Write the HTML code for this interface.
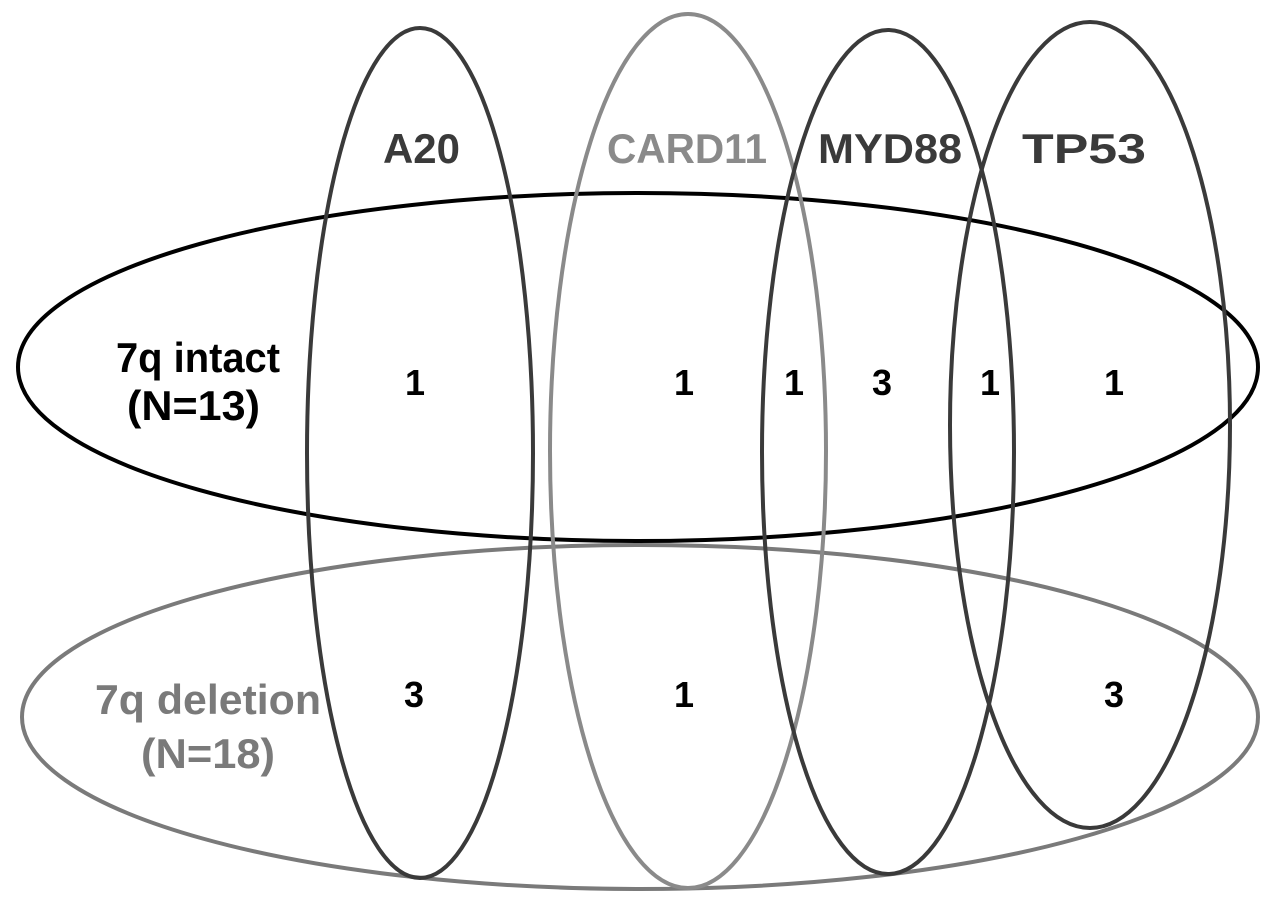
<!DOCTYPE html>
<html><head><meta charset="utf-8"><style>html,body{margin:0;padding:0;background:#fff}svg{display:block}</style></head>
<body>
<svg width="1280" height="911" viewBox="0 0 1280 911" xmlns="http://www.w3.org/2000/svg" font-family="Liberation Sans, sans-serif" font-weight="bold">
<rect width="1280" height="911" fill="#fff"/>
<g fill="none" stroke-width="4">
<ellipse cx="638" cy="367" rx="620" ry="174" stroke="#000"/>
<ellipse cx="640" cy="717" rx="618" ry="172" stroke="#7a7a7a"/>
<ellipse cx="420" cy="453" rx="113" ry="425" stroke="#3a3a3a"/>
<ellipse cx="688" cy="451" rx="138" ry="437" stroke="#8a8a8a"/>
<ellipse cx="888" cy="452" rx="126" ry="422" stroke="#3a3a3a"/>
<ellipse cx="1090" cy="425" rx="140" ry="403" stroke="#3a3a3a"/>
</g>
<g font-size="42">
<text x="383" y="163" fill="#3a3a3a" textLength="77" lengthAdjust="spacingAndGlyphs">A20</text>
<text x="607" y="163" fill="#8a8a8a" textLength="160" lengthAdjust="spacingAndGlyphs">CARD11</text>
<text x="818" y="163" fill="#3a3a3a" textLength="144" lengthAdjust="spacingAndGlyphs">MYD88</text>
<text x="1022" y="163" fill="#3a3a3a" textLength="124" lengthAdjust="spacingAndGlyphs">TP53</text>
<text x="116" y="372" fill="#000" textLength="164" lengthAdjust="spacingAndGlyphs">7q intact</text>
<text x="127" y="420" fill="#000" textLength="133" lengthAdjust="spacingAndGlyphs">(N=13)</text>
<text x="95" y="714" fill="#7a7a7a" textLength="226" lengthAdjust="spacingAndGlyphs">7q deletion</text>
<text x="141" y="768" fill="#7a7a7a" textLength="134" lengthAdjust="spacingAndGlyphs">(N=18)</text>
</g>
<g font-size="36" text-anchor="middle" fill="#000">
<text x="415" y="395">1</text>
<text x="684" y="395">1</text>
<text x="794" y="395">1</text>
<text x="882" y="395">3</text>
<text x="990" y="395">1</text>
<text x="1114" y="395">1</text>
<text x="414" y="707">3</text>
<text x="684" y="707">1</text>
<text x="1114" y="707">3</text>
</g>
</svg>
</body></html>
